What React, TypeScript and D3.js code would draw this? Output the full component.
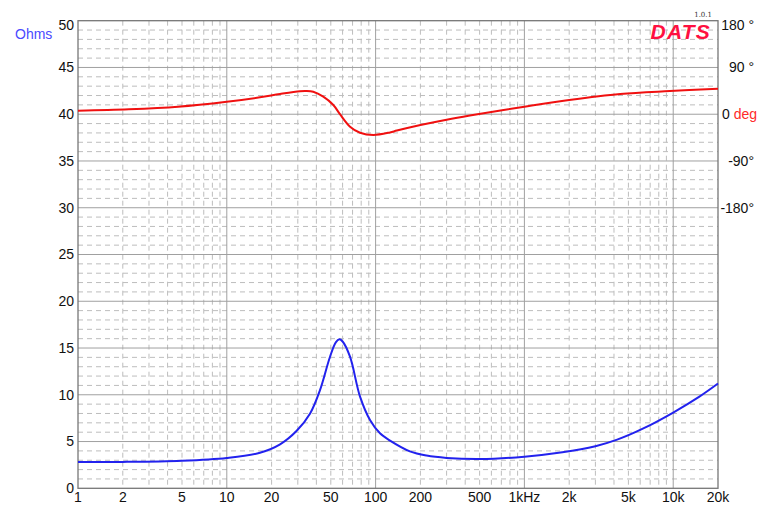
import React from "react";
import * as d3 from "d3";

const W = 768;
const H = 517;
const M = { left: 78, right: 718, top: 20.7, bottom: 488.3 };

const xTickValues = [1, 2, 5, 10, 20, 50, 100, 200, 500, 1000, 2000, 5000, 10000, 20000];
const xTickLabels = ["1", "2", "5", "10", "20", "50", "100", "200", "500", "1kHz", "2k", "5k", "10k", "20k"];
const yTickValues = [0, 5, 10, 15, 20, 25, 30, 35, 40, 45, 50];
const phaseTickValues = [180, 90, 0, -90, -180];
const phaseTickLabels = ["180 °", "90 °", "0", "-90°", "-180°"];

const impFreq = [1, 2, 5, 10, 16.7, 22.8, 29.5, 36.3, 42.3, 49.4, 54, 57, 60, 67.3, 78.6, 91.7, 107, 125, 170, 220, 300, 500, 1000, 1800, 3000, 4200, 6300, 10000, 15000, 20000];
const impOhms = [2.8, 2.82, 2.95, 3.25, 3.8, 4.7, 6.15, 8.0, 10.5, 14.07, 15.6, 15.93, 15.7, 14.07, 9.8, 7.3, 5.88, 5.1, 3.95, 3.5, 3.25, 3.13, 3.38, 3.85, 4.5, 5.2, 6.4, 8.1, 9.8, 11.2];

const phaseFreq = [1, 2.2, 4.7, 10, 16.7, 22.8, 31, 34, 38.1, 44.5, 52, 57.6, 67.3, 78.6, 96.5, 125, 139, 200, 300, 430, 1000, 2000, 4400, 9500, 20000];
const phaseDeg = [6.7, 9.4, 14.4, 24, 32.5, 38.9, 44.3, 44.8, 43.3, 33.7, 17.7, 0, -24, -35.6, -40, -35, -31.5, -20.8, -10.5, -2.5, 14.4, 27.3, 38.9, 44.6, 49];

const FONT = "'Liberation Sans', Arial, Helvetica, sans-serif";

export default function App() {
  const x = d3.scaleLog().domain([1, 20000]).range([M.left, M.right]);
  const y = d3.scaleLinear().domain([0, 50]).range([M.bottom, M.top]);
  const yp = d3.scaleLinear().domain([-180, 180]).range([y(30), y(50)]);

  const minorX: number[] = [];
  const majorX: number[] = [];
  for (let dec = 1; dec <= 10000; dec *= 10) {
    for (let k = 1; k <= 9; k++) {
      const f = dec * k;
      if (f <= 1 || f >= 20000) continue;
      if (k === 1) majorX.push(f);
      else minorX.push(f);
    }
  }
  const minorY: number[] = [];
  const majorY: number[] = [];
  for (let v = 1; v < 50; v++) {
    if (v % 5 === 0) majorY.push(v);
    else minorY.push(v);
  }

  const line = d3
    .line<[number, number]>()
    .x((d) => x(d[0]))
    .y((d) => d[1])
    .curve(d3.curveCatmullRom.alpha(0.5));

  const impPath = line(impFreq.map((f, i) => [f, y(impOhms[i])] as [number, number]));
  const phasePath = line(phaseFreq.map((f, i) => [f, yp(phaseDeg[i])] as [number, number]));

  return (
    <svg width={W} height={H} style={{ position: "absolute", left: 0, top: 0, background: "#fff" }} fontFamily={FONT}>
      <rect x={0} y={0} width={W} height={H} fill="#fff" />
      {minorX.map((f) => (
        <line key={"mx" + f} x1={x(f)} x2={x(f)} y1={M.top} y2={M.bottom} stroke="#bdbdbd" strokeWidth={1} strokeDasharray="5,4" />
      ))}
      {minorY.map((v) => (
        <line key={"my" + v} x1={M.left} x2={M.right} y1={y(v)} y2={y(v)} stroke="#bdbdbd" strokeWidth={1} strokeDasharray="5,4" />
      ))}
      {majorX.map((f) => (
        <line key={"Mx" + f} x1={x(f)} x2={x(f)} y1={M.top} y2={M.bottom} stroke="#a0a0a0" strokeWidth={1} />
      ))}
      {majorY.map((v) => (
        <line key={"My" + v} x1={M.left} x2={M.right} y1={y(v)} y2={y(v)} stroke="#a0a0a0" strokeWidth={1} />
      ))}
      <rect x={M.left} y={M.top} width={M.right - M.left} height={M.bottom - M.top} fill="none" stroke="#777" strokeWidth={1.3} />

      <path d={phasePath || ""} fill="none" stroke="#f01010" strokeWidth={2} />
      <path d={impPath || ""} fill="none" stroke="#2222ee" strokeWidth={2} />

      {yTickValues.map((v) => (
        <text key={"yl" + v} x={74} y={Math.max(y(v), 25)} dy="0.35em" textAnchor="end" fontSize={14} fill="#111">
          {v}
        </text>
      ))}
      <text x={15} y={34} dy="0.35em" fontSize={14} fill="#4a4aff">
        Ohms
      </text>

      {phaseTickValues.map((v, i) =>
        v === 0 ? (
          <text key={"pl" + v} x={722} y={yp(v)} dy="0.35em" fontSize={14} fill="#111">
            0 <tspan fill="#ff2a2a">deg</tspan>
          </text>
        ) : (
          <text key={"pl" + v} x={754} y={Math.max(yp(v), 25)} dy="0.35em" textAnchor="end" fontSize={14} fill="#111">
            {phaseTickLabels[i]}
          </text>
        )
      )}

      {xTickValues.map((f, i) => (
        <text key={"xl" + f} x={x(f)} y={502} textAnchor="middle" fontSize={14} fill="#111">
          {xTickLabels[i]}
        </text>
      ))}

      <text x={712} y={17} textAnchor="end" fontSize={7} fontFamily="'DejaVu Serif', serif" fill="#333">
        1.0.1
      </text>
      <text x={711} y={39} textAnchor="end" fontSize={21} fontWeight="bold" fontStyle="italic" letterSpacing={1.2} fill="#ff1040">
        DATS
      </text>
    </svg>
  );
}
